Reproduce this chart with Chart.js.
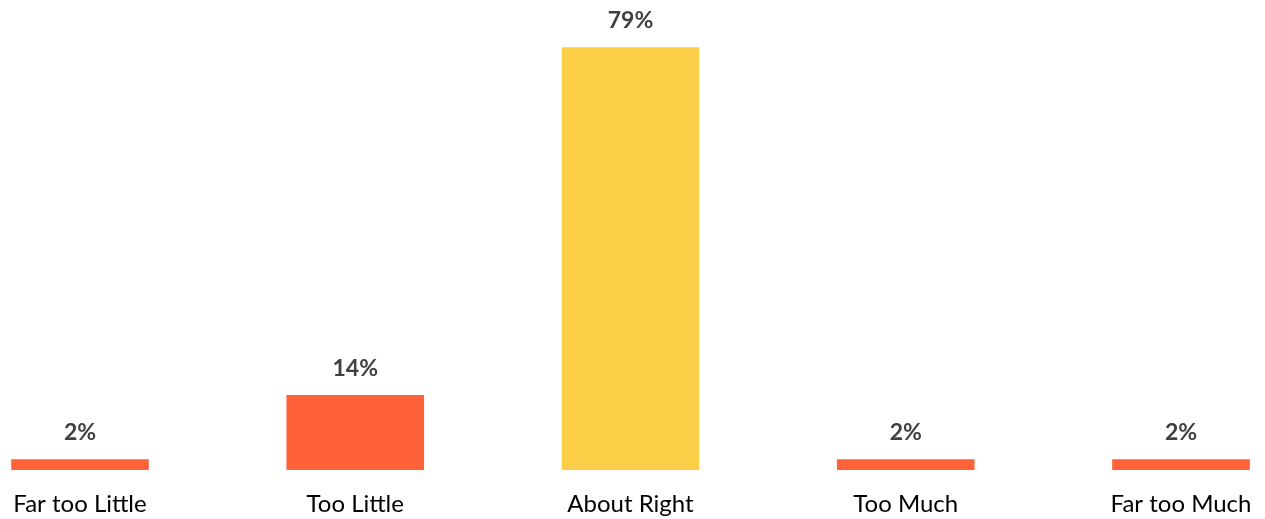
<!DOCTYPE html>
<html>
<head>
<meta charset="utf-8">
<script src="https://cdn.jsdelivr.net/npm/chart.js@4"></script>
<style>
  html, body { margin: 0; padding: 0; background: #fff; }
  #wrap { width: 1265px; height: 519px; }
</style>
</head>
<body>
<div id="wrap"><canvas id="myChart-Bar"></canvas></div>
<script>
const categories = ['Far too Little', 'Too Little', 'About Right', 'Too Much', 'Far too Much'];
const shares = [2, 14, 79, 2, 2];
const barColors = ['#FF6138', '#FF6138', '#FDCF48', '#FF6138', '#FF6138'];

// percentage labels above each bar
const valueLabels = {
  id: 'valueLabels',
  afterDatasetsDraw(chart) {
    const ctx = chart.ctx;
    const meta = chart.getDatasetMeta(0);
    ctx.save();
    ctx.font = 'bold 23px Lato';
    ctx.fillStyle = '#404040';
    ctx.textAlign = 'center';
    ctx.textBaseline = 'alphabetic';
    meta.data.forEach((bar, i) => {
      ctx.fillText(shares[i] + '%', bar.x, bar.y - 19);
    });
    ctx.restore();
  }
};

const ctx = document.getElementById('myChart-Bar');
new Chart(ctx, {
  type: 'bar',
  data: {
    labels: categories,
    datasets: [{
      data: shares,
      backgroundColor: barColors,
      borderWidth: 0,
      clip: false,
      categoryPercentage: 1,
      barPercentage: 0.5
    }]
  },
  options: {
    responsive: true,
    maintainAspectRatio: false,
    animation: false,
    layout: { padding: { left: 80, right: 84, top: 42, bottom: 0 } },
    plugins: {
      legend: { display: false },
      tooltip: { enabled: false }
    },
    scales: {
      x: {
        offset: false,
        grid: { display: false, drawTicks: false },
        border: { display: false },
        afterFit(scale) {
          scale.height = 49;
          // end labels may hang into the side padding
          scale.paddingLeft = 0;
          scale.paddingRight = 0;
        },
        ticks: {
          color: '#000',
          padding: 20,
          maxRotation: 0,
          autoSkip: false,
          font: { family: 'Lato', size: 24 }
        }
      },
      y: {
        display: false,
        min: 0,
        max: 80
      }
    }
  },
  plugins: [valueLabels]
});
</script>
</body>
</html>
